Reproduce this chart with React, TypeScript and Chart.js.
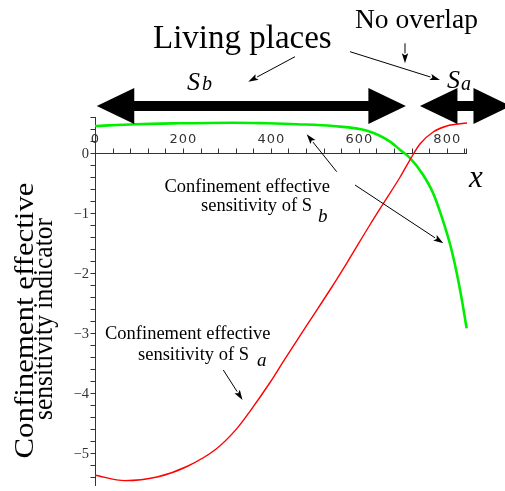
import React, { useEffect, useRef } from 'react';
import { Chart, registerables } from 'chart.js';

Chart.register(...registerables);

// ---- data ----
const redX = [0, 68, 141, 209, 277, 323, 352, 398, 427, 489, 535, 573, 625, 655, 694, 716, 739, 769, 800, 846];
const redY = [-5.37, -5.46, -5.4, -5.225, -4.925, -4.59, -4.31, -3.825, -3.49, -2.79, -2.275, -1.83, -1.2, -0.85, -0.4, -0.117, 0.15, 0.35, 0.45, 0.5];
const greenX = [0, 91, 193, 314, 391, 459, 541, 619, 671, 694, 716, 743, 769, 791, 811, 826, 837, 845];
const greenY = [0.45, 0.48, 0.495, 0.505, 0.495, 0.48, 0.45, 0.37, 0.19, 0.05, -0.08, -0.33, -0.67, -1.12, -1.62, -2.12, -2.56, -2.92];
const xTickValues = [0, 200, 400, 600, 800];
const xTickLabels = ['0', '200', '400', '600', '800'];
const yTickValues = [0, -1, -2, -3, -4, -5];
const yTickLabels = ['0', '\u22121', '\u22122', '\u22123', '\u22124', '\u22125'];
const xMinorStep = 40;
const yMinorStep = 0.2;
// ranges (x data units) of the two living-place arrows
const rangeSb = [4, 707];
const rangeSa = [739, 946];

const SERIF = '"Liberation Serif", "Times New Roman", serif';

function thinArrow(ctx: CanvasRenderingContext2D, x1: number, y1: number, x2: number, y2: number) {
  const head = 10;
  const half = 3.2;
  const dx = x2 - x1;
  const dy = y2 - y1;
  const len = Math.hypot(dx, dy);
  const ux = dx / len;
  const uy = dy / len;
  const bx = x2 - ux * head;
  const by = y2 - uy * head;
  ctx.save();
  ctx.strokeStyle = '#000';
  ctx.fillStyle = '#000';
  ctx.lineWidth = 1;
  ctx.beginPath();
  ctx.moveTo(x1, y1);
  ctx.lineTo(bx, by);
  ctx.stroke();
  ctx.beginPath();
  ctx.moveTo(x2, y2);
  ctx.lineTo(bx - uy * half, by + ux * half);
  ctx.lineTo(bx + ux * 2, by + uy * 2);
  ctx.lineTo(bx + uy * half, by - ux * half);
  ctx.closePath();
  ctx.fill();
  ctx.restore();
}

function bigDoubleArrow(ctx: CanvasRenderingContext2D, xl: number, xr: number, yc: number) {
  const headLen = 37.5;
  const headHalf = 18;
  const shaftHalf = 5;
  ctx.save();
  ctx.fillStyle = '#000';
  ctx.beginPath();
  ctx.moveTo(xl, yc);
  ctx.lineTo(xl + headLen, yc - headHalf);
  ctx.lineTo(xl + headLen, yc - shaftHalf);
  ctx.lineTo(xr - headLen, yc - shaftHalf);
  ctx.lineTo(xr - headLen, yc - headHalf);
  ctx.lineTo(xr, yc);
  ctx.lineTo(xr - headLen, yc + headHalf);
  ctx.lineTo(xr - headLen, yc + shaftHalf);
  ctx.lineTo(xl + headLen, yc + shaftHalf);
  ctx.lineTo(xl + headLen, yc + headHalf);
  ctx.closePath();
  ctx.fill();
  ctx.restore();
}

function fittedRotatedText(ctx: CanvasRenderingContext2D, text: string, cy: number, baseX: number, size: number, targetLen: number) {
  ctx.save();
  ctx.font = `${size}px ${SERIF}`;
  const w = ctx.measureText(text).width;
  ctx.translate(baseX, cy);
  ctx.rotate(-Math.PI / 2);
  ctx.scale(targetLen / w, 1);
  ctx.textAlign = 'center';
  ctx.textBaseline = 'alphabetic';
  ctx.fillText(text, 0, 0);
  ctx.restore();
}

const axesPlugin = {
  id: 'customAxes',
  beforeDatasetsDraw(chart: any) {
    const ctx: CanvasRenderingContext2D = chart.ctx;
    const xs = chart.scales.x;
    const ys = chart.scales.y;
    const ax = Math.round(xs.getPixelForValue(0)) + 0.5;
    const ay = Math.round(ys.getPixelForValue(0)) + 0.5;
    ctx.save();
    ctx.strokeStyle = '#333';
    ctx.lineWidth = 1;
    // y axis
    ctx.beginPath();
    ctx.moveTo(ax, ys.getPixelForValue(ys.max));
    ctx.lineTo(ax, ys.getPixelForValue(ys.min));
    ctx.stroke();
    // x axis
    ctx.beginPath();
    ctx.moveTo(ax, ay);
    ctx.lineTo(xs.getPixelForValue(xs.max), ay);
    ctx.stroke();
    // y ticks (to the left)
    const kTop = Math.floor(ys.max / yMinorStep + 1e-6);
    const kBot = Math.ceil(ys.min / yMinorStep - 1e-6);
    ctx.beginPath();
    for (let k = kTop; k >= kBot; k--) {
      const py = Math.round(ys.getPixelForValue(k * yMinorStep)) + 0.5;
      ctx.moveTo(ax, py);
      ctx.lineTo(ax - 5, py);
    }
    // x ticks (upwards)
    for (let v = 0; v <= xs.max + 1e-6; v += xMinorStep) {
      const px = Math.round(xs.getPixelForValue(v)) + 0.5;
      ctx.moveTo(px, ay);
      ctx.lineTo(px, ay - 5);
    }
    const pe = Math.round(xs.getPixelForValue(xs.max)) - 0.5;
    ctx.moveTo(pe, ay);
    ctx.lineTo(pe, ay - 5);
    ctx.stroke();
    // y labels
    ctx.fillStyle = '#333';
    ctx.font = `14.5px ${SERIF}`;
    ctx.textAlign = 'right';
    ctx.textBaseline = 'middle';
    yTickValues.forEach((v, i) => {
      ctx.fillText(yTickLabels[i], 89, ys.getPixelForValue(v) + 1);
    });
    // x labels
    ctx.font = '13px "DejaVu Sans"';
    (ctx as any).letterSpacing = '1px';
    ctx.textAlign = 'center';
    ctx.textBaseline = 'alphabetic';
    xTickValues.forEach((v, i) => {
      ctx.fillText(xTickLabels[i], xs.getPixelForValue(v) + 0.5, ay - 11);
    });
    (ctx as any).letterSpacing = '0px';
    ctx.restore();
  },
  afterDraw(chart: any) {
    const ctx: CanvasRenderingContext2D = chart.ctx;
    const xs = chart.scales.x;
    ctx.save();
    ctx.fillStyle = '#000';
    ctx.textBaseline = 'alphabetic';
    ctx.textAlign = 'left';

    // Axis titles (rotated)
    fittedRotatedText(ctx, 'Confinement effective', 320.5, 32.5, 27.5, 276);
    fittedRotatedText(ctx, 'sensitivity indicator', 319, 52, 27, 202);

    ctx.font = `italic 31px ${SERIF}`;
    ctx.fillText('x', 469, 187);

    // top annotations
    ctx.font = `33px ${SERIF}`;
    ctx.fillText('Living places', 153, 48);
    ctx.font = `27.5px ${SERIF}`;
    ctx.fillText('No overlap', 355, 28);

    ctx.font = `italic 26px ${SERIF}`;
    ctx.fillText('S', 187, 90);
    ctx.font = `italic 20px ${SERIF}`;
    ctx.fillText('b', 202, 90);
    ctx.font = `italic 26px ${SERIF}`;
    ctx.fillText('S', 447, 88);
    ctx.font = `italic 20px ${SERIF}`;
    ctx.fillText('a', 461, 90);

    // big range arrows
    bigDoubleArrow(ctx, xs.getPixelForValue(rangeSb[0]), xs.getPixelForValue(rangeSb[1]), 106);
    bigDoubleArrow(ctx, xs.getPixelForValue(rangeSa[0]), xs.getPixelForValue(rangeSa[1]), 106);

    // curve labels
    ctx.font = `18.5px ${SERIF}`;
    ctx.textAlign = 'right';
    ctx.fillText('Confinement effective', 330, 192);
    ctx.textAlign = 'left';
    ctx.fillText('sensitivity of S', 201, 211);
    ctx.font = `italic 19px ${SERIF}`;
    ctx.fillText('b', 318, 221.5);

    ctx.font = `18.5px ${SERIF}`;
    ctx.fillText('Confinement effective', 105, 338.5);
    ctx.fillText('sensitivity of S', 138, 360);
    ctx.font = `italic 19px ${SERIF}`;
    ctx.fillText('a', 257, 366);

    // thin arrows
    thinArrow(ctx, 336.7, 171.7, 306.7, 134.3);
    thinArrow(ctx, 355, 185, 443.3, 243.3);
    thinArrow(ctx, 223.3, 370, 242.5, 400);
    thinArrow(ctx, 295, 56.7, 248.3, 81.7);
    thinArrow(ctx, 350, 51.7, 440, 80);
    thinArrow(ctx, 405, 43.3, 405, 63.3);
    ctx.restore();
  },
};

export default function App() {
  const ref = useRef<HTMLCanvasElement>(null);
  useEffect(() => {
    const canvas = ref.current;
    if (!canvas) return;
    const chart = new Chart(canvas, {
      type: 'line',
      data: {
        datasets: [
          {
            label: 'Sa',
            data: redX.map((x, i) => ({ x, y: redY[i] })),
            borderColor: '#ff0000',
            borderWidth: 1.4,
            pointRadius: 0,
            cubicInterpolationMode: 'monotone',
            fill: false,
            clip: 6,
          },
          {
            label: 'Sb',
            data: greenX.map((x, i) => ({ x, y: greenY[i] })),
            borderColor: '#00ee00',
            borderWidth: 2.6,
            pointRadius: 0,
            cubicInterpolationMode: 'monotone',
            fill: false,
            clip: 6,
          },
        ],
      },
      options: {
        responsive: false,
        animation: false,
        devicePixelRatio: 1,
        layout: { padding: { left: 95, right: 38, top: 117, bottom: 5 } },
        plugins: { legend: { display: false }, tooltip: { enabled: false } },
        scales: {
          x: { type: 'linear', min: 0, max: 846, display: false },
          y: { type: 'linear', min: -5.55, max: 0.6, display: false },
        },
      },
      plugins: [axesPlugin],
    } as any);
    return () => chart.destroy();
  }, []);
  return (
    <div style={{ position: 'absolute', left: 0, top: 0, width: 505, height: 491, background: '#fff' }}>
      <canvas ref={ref} width={505} height={491} style={{ display: 'block', width: 505, height: 491 }} />
    </div>
  );
}
